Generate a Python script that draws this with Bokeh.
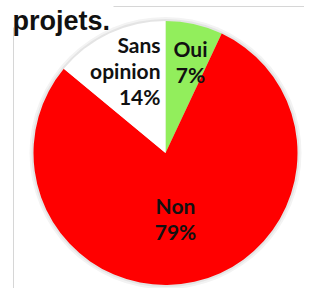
import numpy as np
from bokeh.plotting import figure
from bokeh.models import Range1d, ColumnDataSource
from bokeh.core.properties import value
from bokeh.embed import file_html
from bokeh.resources import INLINE

# ---- data ----
categories = ["Oui", "Non", "Sans opinion"]
percents = [7, 79, 14]
colors = ["#92EE5C", "#FF0000", "#FFFFFF"]
label_lines = [["Oui", "7%"], ["Non", "79%"], ["Sans", "opinion", "14%"]]
title_text = "projets."

# ---- layout (screen pixel coordinates; data y = H - screen y) ----
W, H = 304, 288
def py(y):
    return H - y

cx, cy, r = 165, py(152.5), 132

p = figure(width=W, height=H, output_backend="svg", toolbar_location=None,
           x_range=Range1d(0, W), y_range=Range1d(0, H),
           x_axis_type=None, y_axis_type=None, min_border=0)
p.grid.visible = False
p.outline_line_color = None
p.background_fill_color = "white"
p.border_fill_color = "white"

# faint frame lines
frame_col = "#d6d6d6"
p.line([13, 13], [py(27), py(287.5)], line_color=frame_col, line_width=1)
p.line([113, 312], [py(6), py(6)], line_color=frame_col, line_width=1)

# soft shadow around the pie
p.circle(x=[cx], y=[cy], radius=r + 4, fill_color="#f3f3f3", line_color=None)
p.circle(x=[cx], y=[cy], radius=r + 2, fill_color="#e4e4e4", line_color=None)

# wedges (clockwise from 12 o'clock)
vals = np.array(percents, dtype=float)
cum = np.cumsum(vals) / vals.sum()
prev = np.concatenate([[0], cum[:-1]])
end_deg = 90 - prev * 360
start_deg = 90 - cum * 360
src = ColumnDataSource(dict(cat=categories, start=np.radians(start_deg),
                            end=np.radians(end_deg), color=colors))
p.wedge(x=cx, y=cy, radius=r, start_angle="start", end_angle="end",
        fill_color="color", line_color=None, source=src)

# labels
font = value("Lato")
fs = "21px"
label_anchor = [(190, 48, "center"), (175, 205, "center"), (160, 44, "right")]
line_step = 26
for lines, (ax, ay, al) in zip(label_lines, label_anchor):
    n = len(lines)
    xs = [ax] * n
    ys = [py(ay + i * line_step) for i in range(n)]
    p.text(x=xs, y=ys, text=lines, text_font=font, text_font_size=fs,
           text_font_style="bold", text_align=al, text_baseline="alphabetic",
           text_color="#111111")

# title
p.text(x=[12], y=[py(20)], text=[title_text], text_font=value("Liberation Sans"),
       text_font_size="27px", text_font_style="bold", text_align="left",
       text_baseline="alphabetic", text_color="#111111")

open("out.html", "w").write(file_html(p, INLINE))
